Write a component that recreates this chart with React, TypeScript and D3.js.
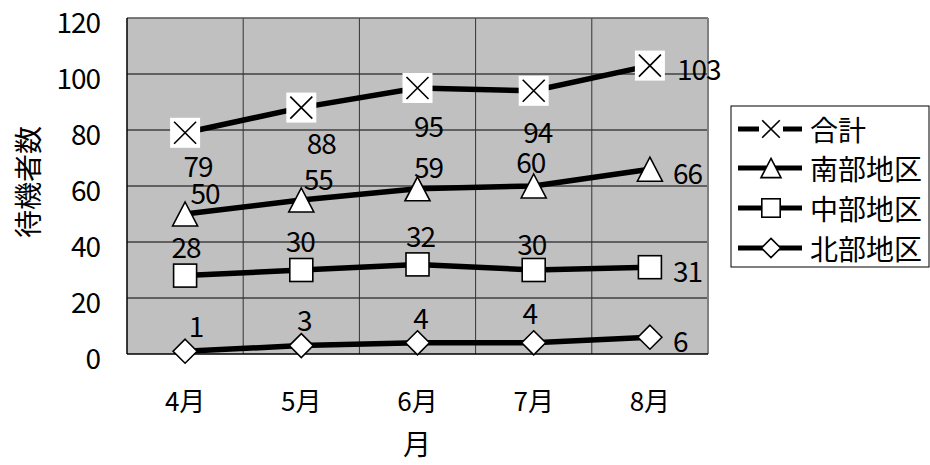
import React from "react";
import * as d3 from "d3";

// Months on the category axis
const months = ["4月", "5月", "6月", "7月", "8月"];

// Waiting counts per area
const totalValues = [79, 88, 95, 94, 103];
const southValues = [50, 55, 59, 60, 66];
const centralValues = [28, 30, 32, 30, 31];
const northValues = [1, 3, 4, 4, 6];

const seriesNames = ["合計", "南部地区", "中部地区", "北部地区"];
const yTicks = [0, 20, 40, 60, 80, 100, 120];

const yTitle = "待機者数";
const xTitle = "月";

type Marker = "cross" | "triangle" | "square" | "diamond";

// Label placement for each point: [dx, dy, anchor]
type Nudge = [number, number, "middle" | "start"];
const labelLayout: Nudge[][] = [
  [[13, 32, "middle"], [20, 34, "middle"], [11, 37, "middle"], [4, 40, "middle"], [27, 2, "start"]],
  [[20, -22, "middle"], [17, -22, "middle"], [11, -23, "middle"], [-3, -25, "middle"], [23, 3, "start"]],
  [[1, -30, "middle"], [-1, -30, "middle"], [3, -29, "middle"], [-2, -27, "middle"], [23, 3, "start"]],
  [[11, -26, "middle"], [3, -27, "middle"], [3, -26, "middle"], [-4, -31, "middle"], [23, 3, "start"]],
];

const FONT = "'Noto Sans CJK JP', 'Noto Sans', sans-serif";
const W = 930;
const H = 465;
const plot = { left: 127, right: 708, top: 18, bottom: 354 };

function MarkerShape({ kind, x, y, s = 1 }: { kind: Marker; x: number; y: number; s?: number }) {
  const sw = 1.6;
  if (kind === "cross") {
    const b = 15 * s;
    const a = 11 * s;
    return (
      <g>
        <rect x={x - b} y={y - b} width={2 * b} height={2 * b} fill="#fff" />
        <path
          d={`M${x - a},${y - a}L${x + a},${y + a}M${x + a},${y - a}L${x - a},${y + a}`}
          stroke="#000"
          strokeWidth={sw}
          fill="none"
        />
      </g>
    );
  }
  if (kind === "triangle") {
    const hw = 12.5 * s;
    const hh = 12 * s;
    return (
      <path
        d={`M${x},${y - hh}L${x + hw},${y + hh}L${x - hw},${y + hh}Z`}
        fill="#fff"
        stroke="#000"
        strokeWidth={sw}
      />
    );
  }
  if (kind === "square") {
    const h = 11.5 * s;
    return (
      <rect x={x - h} y={y - h} width={2 * h} height={2 * h} fill="#fff" stroke="#000" strokeWidth={sw} />
    );
  }
  const h = 12 * s;
  return (
    <path
      d={`M${x},${y - h}L${x + h},${y}L${x},${y + h}L${x - h},${y}Z`}
      fill="#fff"
      stroke="#000"
      strokeWidth={sw}
    />
  );
}

export default function App() {
  const series = [
    { name: seriesNames[0], values: totalValues, marker: "cross" as Marker },
    { name: seriesNames[1], values: southValues, marker: "triangle" as Marker },
    { name: seriesNames[2], values: centralValues, marker: "square" as Marker },
    { name: seriesNames[3], values: northValues, marker: "diamond" as Marker },
  ];

  const x = d3.scaleBand<string>().domain(months).range([plot.left, plot.right]).paddingInner(0).paddingOuter(0);
  const y = d3.scaleLinear().domain([0, 120]).range([plot.bottom, plot.top]);
  const cx = (m: string) => (x(m) as number) + x.bandwidth() / 2;

  const line = d3
    .line<number>()
    .x((_, i) => cx(months[i]))
    .y((v) => y(v));

  const legendX = 731;
  const legendY = 106;
  const legendRows = [129, 168, 208, 248];

  return (
    <svg
      width={W}
      height={H}
      style={{ position: "absolute", left: 0, top: 0, background: "#fff" }}
      fontFamily={FONT}
    >
      {/* plot background */}
      <rect x={plot.left} y={plot.top} width={plot.right - plot.left} height={plot.bottom - plot.top} fill="#c0c0c0" />

      {/* horizontal gridlines */}
      {yTicks.slice(1, -1).map((t) => (
        <line key={t} x1={plot.left} x2={plot.right} y1={y(t)} y2={y(t)} stroke="#000" strokeWidth={1} />
      ))}
      {/* vertical gridlines between categories */}
      {months.slice(1).map((m) => (
        <line key={m} x1={x(m)} x2={x(m)} y1={plot.top} y2={plot.bottom} stroke="#333" strokeWidth={1} />
      ))}

      {/* frame */}
      <line x1={plot.left} x2={plot.right} y1={plot.top} y2={plot.top} stroke="#555" strokeWidth={1.5} />
      <line x1={plot.right} x2={plot.right} y1={plot.top} y2={plot.bottom} stroke="#808080" strokeWidth={2} />
      <line x1={plot.left} x2={plot.left} y1={plot.top} y2={plot.bottom} stroke="#000" strokeWidth={1.5} />
      <line x1={plot.left} x2={plot.right} y1={plot.bottom} y2={plot.bottom} stroke="#000" strokeWidth={1.5} />

      {/* y tick labels */}
      {yTicks.map((t) => (
        <text key={t} x={100} y={y(t) + 3} textAnchor="end" dominantBaseline="central" fontSize={28} letterSpacing={-1}>
          {t}
        </text>
      ))}

      {/* x tick labels */}
      {months.map((m) => (
        <text key={m} x={cx(m)} y={399} textAnchor="middle" dominantBaseline="central" fontSize={26}>
          {m}
        </text>
      ))}

      {/* axis titles */}
      <text x={417} y={443} textAnchor="middle" dominantBaseline="central" fontSize={28}>
        {xTitle}
      </text>
      <text
        transform={`translate(27,182) rotate(-90)`}
        textAnchor="middle"
        dominantBaseline="central"
        fontSize={28}
      >
        {yTitle}
      </text>

      {/* series lines */}
      {series.map((s) => (
        <path key={s.name} d={line(s.values) || ""} fill="none" stroke="#000" strokeWidth={5.5} />
      ))}

      {/* markers */}
      {series.map((s) =>
        s.values.map((v, i) => <MarkerShape key={s.name + i} kind={s.marker} x={cx(months[i])} y={y(v)} />)
      )}

      {/* value labels */}
      {series.map((s, si) =>
        s.values.map((v, i) => {
          const [dx, dy, anchor] = labelLayout[si][i];
          return (
            <text
              key={s.name + "l" + i}
              x={cx(months[i]) + dx}
              y={y(v) + dy}
              textAnchor={anchor}
              dominantBaseline="central"
              fontSize={28}
              letterSpacing={-1}
            >
              {v}
            </text>
          );
        })
      )}

      {/* legend */}
      <rect x={legendX} y={legendY} width={198} height={161} fill="#fff" stroke="#000" strokeWidth={1} />
      {series.map((s, i) => (
        <g key={s.name + "leg"}>
          <line x1={738} x2={802} y1={legendRows[i]} y2={legendRows[i]} stroke="#000" strokeWidth={5} />
          <MarkerShape kind={s.marker} x={771} y={legendRows[i]} s={0.8} />
          <text x={810} y={legendRows[i]} dominantBaseline="central" fontSize={28}>
            {s.name}
          </text>
        </g>
      ))}
    </svg>
  );
}
